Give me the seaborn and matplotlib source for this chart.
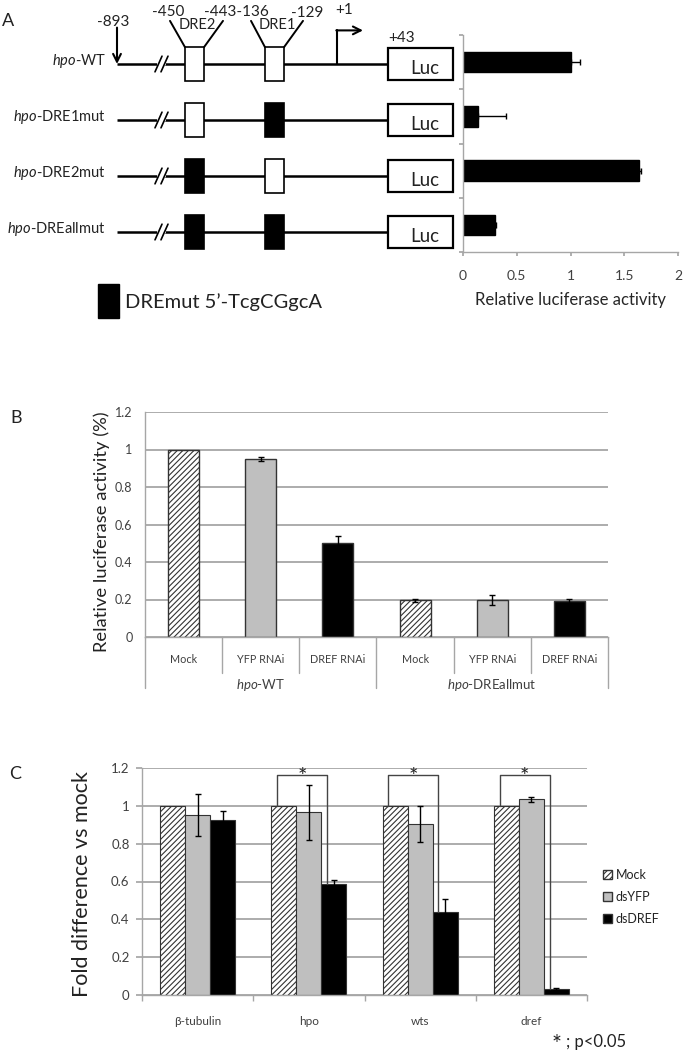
import matplotlib
matplotlib.use("Agg")
import matplotlib.pyplot as plt
import matplotlib.patches as mpatches
import matplotlib.transforms as mtransforms
import pandas as pd
import seaborn as sns

# ---- panel A: reporter constructs ----
constructs = ["hpo-WT", "hpo-DRE1mut", "hpo-DRE2mut", "hpo-DREallmut"]
construct_labels = [r"$\mathit{hpo}$-WT", r"$\mathit{hpo}$-DRE1mut",
                    r"$\mathit{hpo}$-DRE2mut", r"$\mathit{hpo}$-DREallmut"]
dre2_mutated = [False, False, True, True]
dre1_mutated = [False, True, False, True]
a_activity = [1.0, 0.14, 1.64, 0.30]
a_err = [0.09, 0.26, 0.02, 0.01]

# ---- panel B: luciferase after RNAi ----
b_groups = ["hpo-WT", "hpo-WT", "hpo-WT", "hpo-DREallmut", "hpo-DREallmut", "hpo-DREallmut"]
b_group_labels = [r"$\mathit{hpo}$-WT", r"$\mathit{hpo}$-DREallmut"]
b_treatments = ["Mock", "YFP RNAi", "DREF RNAi", "Mock", "YFP RNAi", "DREF RNAi"]
b_activity = [1.0, 0.95, 0.50, 0.195, 0.197, 0.19]
b_err = [0.0, 0.012, 0.04, 0.008, 0.025, 0.012]

# ---- panel C: qPCR ----
c_genes = ["β-tubulin", "hpo", "wts", "dref"]
c_treatments = ["Mock", "dsYFP", "dsDREF"]
c_mock = [1.0, 1.0, 1.0, 1.0]
c_dsyfp = [0.95, 0.965, 0.905, 1.035]
c_dsyfp_err = [0.11, 0.145, 0.095, 0.013]
c_dsdref = [0.925, 0.585, 0.44, 0.03]
c_dsdref_err = [0.05, 0.025, 0.065, 0.005]
c_significant = ["hpo", "wts", "dref"]

GRAY = "#bfbfbf"
GRID = "#a6a6a6"
EDGE = "#333333"
TICK = "#404040"
HATCH = "//////"

sns.set_theme(style="white")
plt.rcParams["font.family"] = ["Lato", "DejaVu Sans"]
plt.rcParams["mathtext.fontset"] = "custom"
plt.rcParams["mathtext.rm"] = "Lato"
plt.rcParams["mathtext.it"] = "Lato:italic"
plt.rcParams["hatch.linewidth"] = 0.8
plt.rcParams["text.color"] = "#222222"

W, H = 685, 1055
fig = plt.figure(figsize=(W / 100, H / 100), dpi=100)


def px_axes(left, top, right, bottom):
    return fig.add_axes([left / W, 1 - bottom / H, (right - left) / W, (bottom - top) / H])


def gray_axes(ax):
    for s in ["top", "right"]:
        ax.spines[s].set_visible(False)
    for s in ["left", "bottom"]:
        ax.spines[s].set_color(GRID)
        ax.spines[s].set_linewidth(1)


# ================= panel A: diagram =================
ax_d = px_axes(0, 0, 460, 330)
ax_d.set_xlim(0, 460)
ax_d.set_ylim((330 - 64) / 56, -64 / 56)
ax_d.axis("off")

x_start, x_break = 117, 160
dre2_x, dre1_x, box_w = 185, 265, 19
luc_x, luc_w = 388, 65
tss_x = 337

for r, (lab, m2, m1) in enumerate(zip(construct_labels, dre2_mutated, dre1_mutated)):
    ax_d.plot([x_start, luc_x], [r, r], color="black", lw=1.8, solid_capstyle="butt")
    # break mark
    ax_d.plot([x_break - 1, x_break + 4], [r, r], color="white", lw=3)
    ax_d.plot([x_break - 5, x_break + 2], [r + 0.14, r - 0.14], color="black", lw=1.2)
    ax_d.plot([x_break + 1, x_break + 8], [r + 0.14, r - 0.14], color="black", lw=1.2)
    for bx, mut in [(dre2_x, m2), (dre1_x, m1)]:
        ax_d.add_patch(mpatches.Rectangle((bx, r - 0.3), box_w, 0.6,
                                          facecolor="black" if mut else "white",
                                          edgecolor="black", lw=1.2, zorder=3))
    ax_d.add_patch(mpatches.Rectangle((luc_x, r - 0.29), luc_w, 0.58, facecolor="white",
                                      edgecolor="black", lw=1.6, zorder=3))
    ax_d.text(luc_x + luc_w / 2 + 4, r + 0.08, "Luc", fontsize=13.5, ha="center", va="center", zorder=4)
    ax_d.text(106, r - 0.05, lab, fontsize=10.5, ha="right", va="center")

# WT annotations
ax_d.annotate("", xy=(x_start, 0), xytext=(x_start, -0.65),
              arrowprops=dict(arrowstyle="->", lw=1.5, color="black", shrinkA=0, shrinkB=0,
                              mutation_scale=14))
ax_d.plot([tss_x, tss_x], [0, -0.6], color="black", lw=1.5)
ax_d.annotate("", xy=(tss_x + 26, -0.6), xytext=(tss_x - 0.7, -0.6),
              arrowprops=dict(arrowstyle="->", lw=1.5, color="black", shrinkA=0, shrinkB=0,
                              mutation_scale=14))
for bx, tx_l, tx_r in [(dre2_x, 170, 223), (dre1_x, 251, 303)]:
    ax_d.plot([tx_l, bx], [-0.77, -0.3], color="black", lw=1.4)
    ax_d.plot([tx_r, bx + box_w], [-0.77, -0.3], color="black", lw=1.4)
for txt, x, y, fs in [("-893", 113, -0.75, 11), ("-450", 168, -0.93, 11),
                      ("DRE2", 197, -0.70, 10.5), ("-443-136", 236, -0.93, 11),
                      ("DRE1", 277, -0.70, 10.5), ("-129", 307, -0.91, 11),
                      ("+1", 344, -0.97, 11), ("+43", 402, -0.47, 11)]:
    ax_d.text(x, y, txt, fontsize=fs, ha="center", va="center")

# legend for mutated DRE
ax_d.add_patch(mpatches.Rectangle((98, 3.93), 21, 0.61, facecolor="black", edgecolor="black"))
ax_d.text(125, 4.25, "DREmut 5’-TcgCGgcA", fontsize=14.5, ha="left", va="center")

# ================= panel A: bars =================
dfa = pd.DataFrame({"construct": constructs, "activity": a_activity})
ax_a = px_axes(463, 35, 678, 252)
sns.barplot(data=dfa, x="activity", y="construct", orient="h", color="black",
            width=0.38, errorbar=None, edgecolor="black", ax=ax_a)
bars_a = sorted(ax_a.patches, key=lambda p: p.get_y())
for p, v, e in zip(bars_a, a_activity, a_err):
    ax_a.errorbar(v, p.get_y() + p.get_height() / 2, xerr=[[0], [e]], fmt="none",
                  ecolor="black", elinewidth=1, capsize=2.5)
ax_a.set_xlim(0, 2)
ax_a.set_xticks([0, 0.5, 1, 1.5, 2])
ax_a.set_xticklabels(["0", "0.5", "1", "1.5", "2"])
ax_a.set_ylim(3.5, -0.5)
ax_a.set_yticks([-0.5, 0.5, 1.5, 2.5, 3.5])
ax_a.set_yticklabels([])
ax_a.set_ylabel("")
ax_a.set_xlabel("Relative luciferase activity", fontsize=12, labelpad=7)
gray_axes(ax_a)
ax_a.tick_params(axis="both", length=3, color=GRID, labelsize=10, left=True, bottom=True,
                 labelcolor=TICK)
ax_a.tick_params(axis="x", pad=10)

# ================= panel B =================
dfb = pd.DataFrame({"slot": [g + " " + t for g, t in zip(b_groups, b_treatments)],
                    "treatment": b_treatments, "activity": b_activity})
ax_b = px_axes(145, 412, 608, 637)
sns.barplot(data=dfb, x="slot", y="activity", hue="treatment",
            hue_order=["Mock", "YFP RNAi", "DREF RNAi"],
            palette={"Mock": "white", "YFP RNAi": GRAY, "DREF RNAi": "black"},
            dodge=False, width=0.4, edgecolor=EDGE, linewidth=1, errorbar=None,
            legend=False, ax=ax_b)
bars_b = sorted([p for p in ax_b.patches if p.get_height() > 0], key=lambda p: p.get_x())
for p, t, v, e in zip(bars_b, b_treatments, b_activity, b_err):
    if t == "Mock":
        p.set_hatch(HATCH)
        p.set_facecolor("white")
    if e > 0:
        ax_b.errorbar(p.get_x() + p.get_width() / 2, v, yerr=e, fmt="none",
                      ecolor="black", elinewidth=1, capsize=2.5)
ax_b.set_ylim(0, 1.2)
ax_b.set_xlim(-0.5, 5.5)
ax_b.set_yticks([0, 0.2, 0.4, 0.6, 0.8, 1.0, 1.2])
ax_b.set_yticklabels(["0", "0.2", "0.4", "0.6", "0.8", "1", "1.2"])
ax_b.set_xticks([])
ax_b.set_xlabel("")
ax_b.set_ylabel("")
ax_b.yaxis.grid(True, color=GRID, lw=1.3)
ax_b.set_axisbelow(True)
gray_axes(ax_b)
ax_b.tick_params(axis="y", length=0, labelsize=9, pad=9, labelcolor=TICK)
tb = mtransforms.blended_transform_factory(ax_b.transData, ax_b.transAxes)
for i, t in enumerate(b_treatments):
    ax_b.text(i, -0.102, t, transform=tb, fontsize=7.8, ha="center", va="center",
              color=TICK)
for i in range(len(b_treatments) + 1):
    edge = i % 3 == 0
    ax_b.plot([i - 0.5, i - 0.5], [0, -0.227 if edge else -0.16], transform=tb,
              clip_on=False, color=GRID, lw=1)
for gi, gl in enumerate(b_group_labels):
    ax_b.text(gi * 3 + 1, -0.213, gl, transform=tb, fontsize=9.5, ha="center", va="center",
              color=TICK)
fig.text(102 / W, 1 - 532 / H, "Relative luciferase activity (%)", rotation=90,
         fontsize=13.2, ha="center", va="center")

# ================= panel C =================
dfc = pd.DataFrame({
    "gene": c_genes * 3,
    "treatment": [c_treatments[0]] * 4 + [c_treatments[1]] * 4 + [c_treatments[2]] * 4,
    "value": c_mock + c_dsyfp + c_dsdref,
})
ax_c = px_axes(142, 768, 587, 995)
sns.barplot(data=dfc, x="gene", y="value", hue="treatment", hue_order=c_treatments,
            palette={"Mock": "white", "dsYFP": GRAY, "dsDREF": "black"},
            width=0.675, edgecolor=EDGE, linewidth=0.8, errorbar=None,
            legend=False, ax=ax_c)
bars_c = sorted([p for p in ax_c.patches if p.get_height() > 0], key=lambda p: p.get_x())
bars_c = [bars_c[i * 3:(i + 1) * 3] for i in range(len(c_genes))]
for gi in range(len(c_genes)):
    mock_p, yfp_p, dref_p = bars_c[gi]
    mock_p.set_hatch(HATCH)
    mock_p.set_facecolor("white")
    for p, v, e in [(yfp_p, c_dsyfp[gi], c_dsyfp_err[gi]), (dref_p, c_dsdref[gi], c_dsdref_err[gi])]:
        ax_c.errorbar(p.get_x() + p.get_width() / 2, v, yerr=e, fmt="none",
                      ecolor="black", elinewidth=1, capsize=2.5)
    if c_genes[gi] in c_significant:
        w = mock_p.get_width()
        xl = mock_p.get_x() + 0.23 * w
        xr = dref_p.get_x() + 0.23 * w
        ax_c.plot([xl, xl, xr, xr], [c_mock[gi], 1.165, 1.165, c_dsdref[gi]],
                  color="#444444", lw=1)
        ax_c.text((xl + xr) / 2, 1.15, "*", fontsize=16, ha="center", va="center",
                  clip_on=False)
ax_c.set_ylim(0, 1.2)
ax_c.set_xlim(-0.5, 3.5)
ax_c.set_yticks([0, 0.2, 0.4, 0.6, 0.8, 1.0, 1.2])
ax_c.set_yticklabels(["0", "0.2", "0.4", "0.6", "0.8", "1", "1.2"])
ax_c.set_xticks(range(len(c_genes)))
ax_c.set_xticklabels(c_genes)
ax_c.set_xticks([-0.5, 0.5, 1.5, 2.5, 3.5], minor=True)
ax_c.set_xlabel("")
ax_c.set_ylabel("")
ax_c.yaxis.grid(True, color=GRID, lw=1.3)
ax_c.set_axisbelow(True)
gray_axes(ax_c)
ax_c.tick_params(axis="x", which="major", length=0, labelsize=8.5, pad=15, labelcolor=TICK)
ax_c.tick_params(axis="x", which="minor", length=4, color=GRID, bottom=True)
ax_c.tick_params(axis="y", length=4, color=GRID, labelsize=9.5, pad=5, left=True,
                 labelcolor=TICK)
fig.text(82 / W, 1 - 884 / H, "Fold difference vs mock", rotation=90,
         fontsize=15.5, ha="center", va="center")

handles = [mpatches.Patch(facecolor="white", edgecolor=EDGE, hatch=HATCH, label="Mock"),
           mpatches.Patch(facecolor=GRAY, edgecolor=EDGE, label="dsYFP"),
           mpatches.Patch(facecolor="black", edgecolor=EDGE, label="dsDREF")]
fig.legend(handles=handles, loc="center left", bbox_to_anchor=(603 / W, 1 - 897 / H),
           frameon=False, fontsize=9, handlelength=0.7, handleheight=0.7,
           handletextpad=0.3, labelspacing=0.8, borderaxespad=0, borderpad=0)
fig.text(552 / W, 1 - 1044 / H, "*", fontsize=17, ha="left", va="center")
fig.text(566 / W, 1 - 1042 / H, "; p<0.05", fontsize=12, ha="left", va="center")

# panel letters
fig.text(8 / W, 1 - 21 / H, "A", fontsize=13, ha="center", va="center")
fig.text(16 / W, 1 - 418 / H, "B", fontsize=13, ha="center", va="center")
fig.text(15 / W, 1 - 774 / H, "C", fontsize=13, ha="center", va="center")

fig.savefig("out.png", dpi=100)
